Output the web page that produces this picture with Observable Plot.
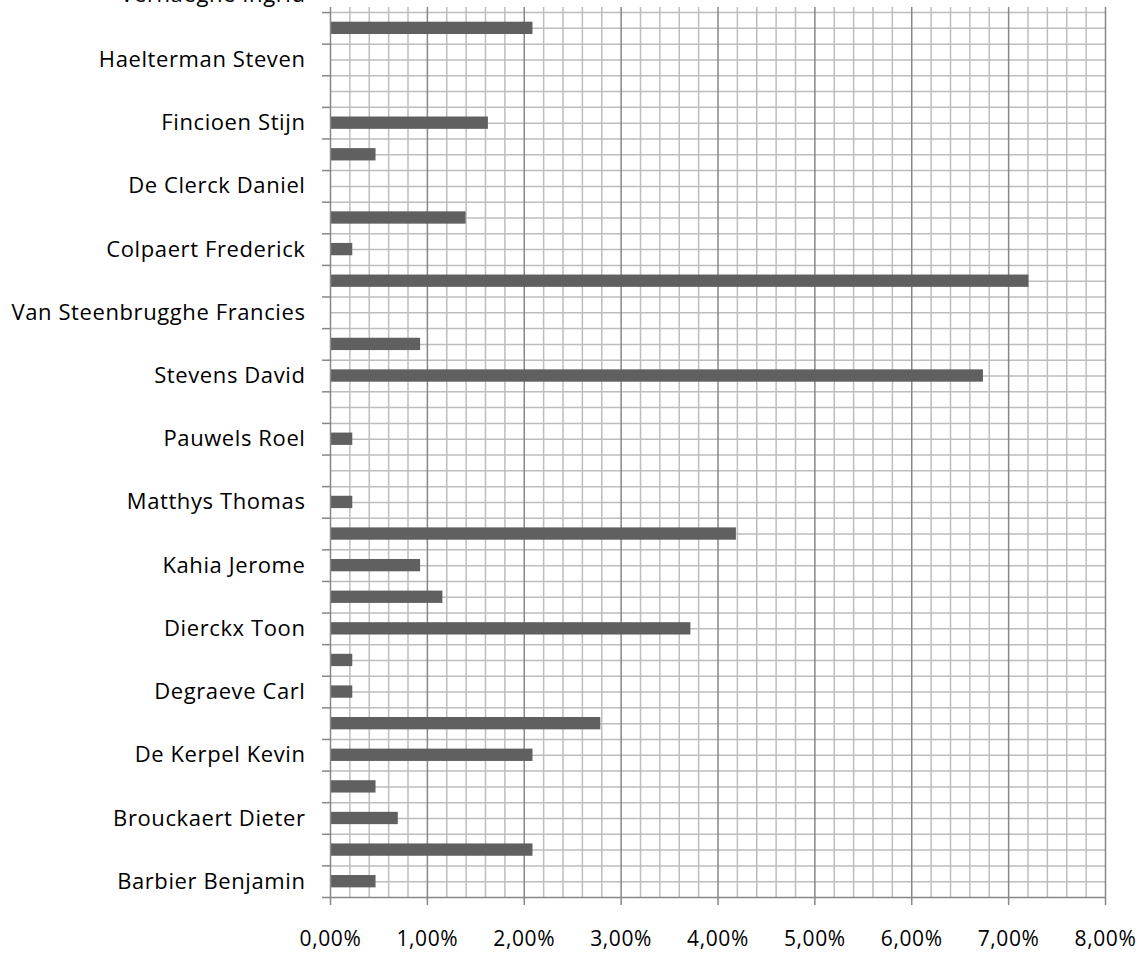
<!DOCTYPE html>
<html><head><meta charset="utf-8">
<script src="https://cdn.jsdelivr.net/npm/d3@7"></script>
<script src="https://cdn.jsdelivr.net/npm/@observablehq/plot@0.6"></script>
<style>html,body{margin:0;padding:0;background:#fff;overflow:hidden}
#chart svg text{letter-spacing:0.6px}</style>
</head><body><div id="chart"></div>
<script>
// Category labels, bottom to top (only every other category is labelled in the original;
// the last one sits above the plot and is cut off at the top of the picture)
const names = [
  "Barbier Benjamin", "", "Brouckaert Dieter", "", "De Kerpel Kevin", "",
  "Degraeve Carl", "", "Dierckx Toon", "", "Kahia Jerome", "",
  "Matthys Thomas", "", "Pauwels Roel", "", "Stevens David", "",
  "Van Steenbrugghe Francies", "", "Colpaert Frederick", "", "De Clerck Daniel", "",
  "Fincioen Stijn", "", "Haelterman Steven", "", "Verhaeghe Ingrid"
];
// Share per category in percent, bottom to top (the cut-off top category has no visible bar)
const shares = [
  0.47, 2.09, 0.70, 0.47, 2.09, 2.79,
  0.23, 0.23, 3.72, 1.16, 0.93, 4.19,
  0.23, 0, 0.23, 0, 6.74, 0.93,
  0, 7.21, 0.23, 1.40, 0, 0.47,
  1.63, 0, 0, 2.09
];
const xTicks = [0, 1, 2, 3, 4, 5, 6, 7, 8];

const fmt = d => d.toFixed(2).replace(".", ",") + "%";
const bars = shares.map((v, i) => ({i, v})).filter(d => d.v > 0);
const nCat = shares.length;            // 28 categories inside the plot
const labels = names.map((n, i) => ({i, n})).filter(d => d.n !== "" && d.i < nCat);
const topLabel = names.map((n, i) => ({i, n})).filter(d => d.i >= nCat);
const yTop = nCat - 0.5 + 0.16;        // plot area ends slightly above the top boundary
const minorX = d3.range(0, 41).filter(k => k % 5).map(k => k / 5);
const hLines = d3.range(1, 2 * nCat + 1).map(k => -0.5 + k / 2);
const bounds = d3.range(0, nCat + 1).map(k => k - 0.5);

const light = "#bdbdbd", dark = "#878787";
const font = "'Open Sans', Lato, sans-serif";
const chart = Plot.plot({
  width: 1146,
  height: 955,
  marginLeft: 330,
  marginRight: 41,
  marginTop: 7,
  marginBottom: 58,
  style: {fontFamily: font, color: "#000", background: "#fff", overflow: "visible"},
  x: {domain: [0, 8], axis: null},
  y: {type: "linear", domain: [-0.5, yTop], axis: null},
  marks: [
    Plot.ruleX(minorX, {stroke: light, strokeWidth: 1.5}),
    Plot.ruleY(hLines, {stroke: light, strokeWidth: 1.5}),
    Plot.ruleX(xTicks.slice(1), {stroke: dark, strokeWidth: 1.5}),
    Plot.rectX(bars, {x1: 0, x2: "v", y1: d => d.i - 0.195, y2: d => d.i + 0.195, fill: "#606060"}),
    Plot.ruleX([0], {stroke: dark, strokeWidth: 1.5}),
    Plot.ruleY([-0.5], {stroke: dark, strokeWidth: 1.5}),
    Plot.axisY({ticks: bounds, tickSize: 8, tickFormat: () => "", label: null, stroke: dark, strokeWidth: 1.5}),
    Plot.axisX({ticks: xTicks, tickSize: 8, tickPadding: 26, tickFormat: fmt, label: null, fontSize: 21, stroke: dark, strokeWidth: 1.5, fill: "#000"}),
    Plot.text(labels, {x: 0, y: "i", text: "n", textAnchor: "end", dx: -25, fontSize: 22, fill: "#000"}),
    Plot.text(topLabel, {x: 0, y: "i", text: "n", textAnchor: "end", dx: -25, dy: -2, fontSize: 22, fill: "#000"})
  ]
});
document.getElementById("chart").appendChild(chart);
</script>
</body></html>
